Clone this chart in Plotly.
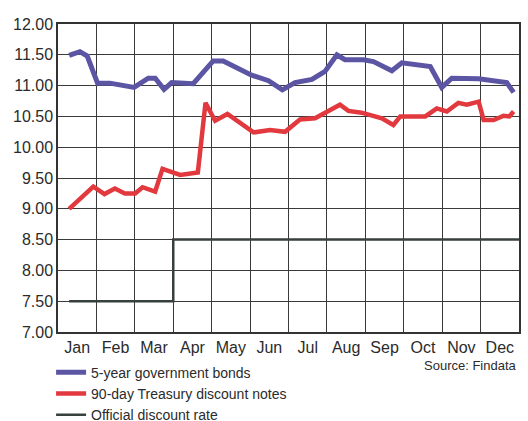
import plotly.graph_objects as go

# Month positions run from 0 (start of Jan) to 12 (end of Dec)
months = ["Jan", "Feb", "Mar", "Apr", "May", "Jun",
          "Jul", "Aug", "Sep", "Oct", "Nov", "Dec"]
rate_ticks = [7.0, 7.5, 8.0, 8.5, 9.0, 9.5, 10.0, 10.5, 11.0, 11.5, 12.0]

# 5-year government bonds
bond_pos = [0.29, 0.57, 0.76, 1.03, 1.35, 1.98, 2.35, 2.53, 2.76, 2.96,
            3.52, 4.04, 4.30, 5.04, 5.48, 5.84, 6.17, 6.61, 6.95, 7.26,
            7.47, 7.95, 8.21, 8.69, 8.95, 9.30, 9.69, 9.99, 10.25, 10.95,
            11.68, 11.86]
bond_rate = [11.49, 11.55, 11.48, 11.04, 11.04, 10.97, 11.12, 11.12, 10.94, 11.05,
             11.03, 11.40, 11.40, 11.17, 11.08, 10.93, 11.05, 11.10, 11.23, 11.50,
             11.42, 11.42, 11.39, 11.24, 11.37, 11.35, 11.31, 10.97, 11.12, 11.11,
             11.05, 10.89]

# 90-day Treasury discount notes
note_pos = [0.29, 0.92, 1.21, 1.48, 1.74, 2.01, 2.20, 2.53, 2.72, 3.18,
            3.64, 3.84, 4.09, 4.41, 5.09, 5.52, 5.91, 6.30, 6.69, 7.34,
            7.56, 7.90, 8.43, 8.73, 8.91, 9.56, 9.86, 10.12, 10.42, 10.64,
            10.95, 11.08, 11.34, 11.60, 11.75, 11.86]
note_rate = [9.00, 9.36, 9.24, 9.33, 9.25, 9.25, 9.35, 9.28, 9.65, 9.55,
             9.59, 10.72, 10.43, 10.54, 10.24, 10.28, 10.25, 10.45, 10.47, 10.69,
             10.59, 10.56, 10.47, 10.36, 10.50, 10.50, 10.63, 10.58, 10.72, 10.69,
             10.74, 10.44, 10.44, 10.51, 10.50, 10.58]

# Official discount rate (step change in April)
official_pos = [0.29, 3.0, 12.0]
official_rate = [7.5, 8.5, 8.5]

font_family = "Arial, Liberation Sans, sans-serif"
ink = "#2b2b2b"

fig = go.Figure()
fig.add_trace(go.Scatter(
    x=bond_pos, y=bond_rate, mode="lines",
    name="5-year government bonds",
    line=dict(color="#5b55a3", width=5),
))
fig.add_trace(go.Scatter(
    x=note_pos, y=note_rate, mode="lines",
    name="90-day Treasury discount notes",
    line=dict(color="#e2393f", width=4.5),
))
fig.add_trace(go.Scatter(
    x=official_pos, y=official_rate, mode="lines",
    name="Official discount rate",
    line=dict(color="#37403d", width=2.5, shape="hv"),
))

fig.update_layout(
    width=528, height=421,
    margin=dict(l=58, r=9, t=24, b=89, autoexpand=False),
    paper_bgcolor="white", plot_bgcolor="white",
    font=dict(family=font_family, size=16, color=ink),
    showlegend=True,
    legend=dict(
        x=-0.015, xanchor="left", y=-0.08, yanchor="top",
        font=dict(size=14, color=ink),
        bgcolor="rgba(0,0,0,0)", tracegroupgap=0,
    ),
    xaxis=dict(
        range=[0, 12],
        tickvals=[i + 0.5 for i in range(12)], ticktext=months,
        showgrid=False, zeroline=False, ticks="",
        showline=True, mirror=True, linecolor="#333", linewidth=1.5,
        minor=dict(tick0=0, dtick=1, showgrid=True,
                   gridcolor="#3a3a3a", gridwidth=1.3),
        tickfont=dict(size=16, color=ink),
        fixedrange=True,
    ),
    yaxis=dict(
        range=[7, 12],
        tickvals=rate_ticks, tickformat=".2f",
        showgrid=True, gridcolor="#3a3a3a", gridwidth=1.3,
        zeroline=False, ticks="",
        showline=True, mirror=True, linecolor="#333", linewidth=1.5,
        tickfont=dict(size=16, color=ink),
        fixedrange=True,
    ),
    annotations=[dict(
        text="Source: Findata", xref="paper", yref="paper",
        x=1.0, y=-0.11, xanchor="right", yanchor="middle",
        showarrow=False, font=dict(size=13, color=ink),
    )],
)

fig.write_html("out.html")
